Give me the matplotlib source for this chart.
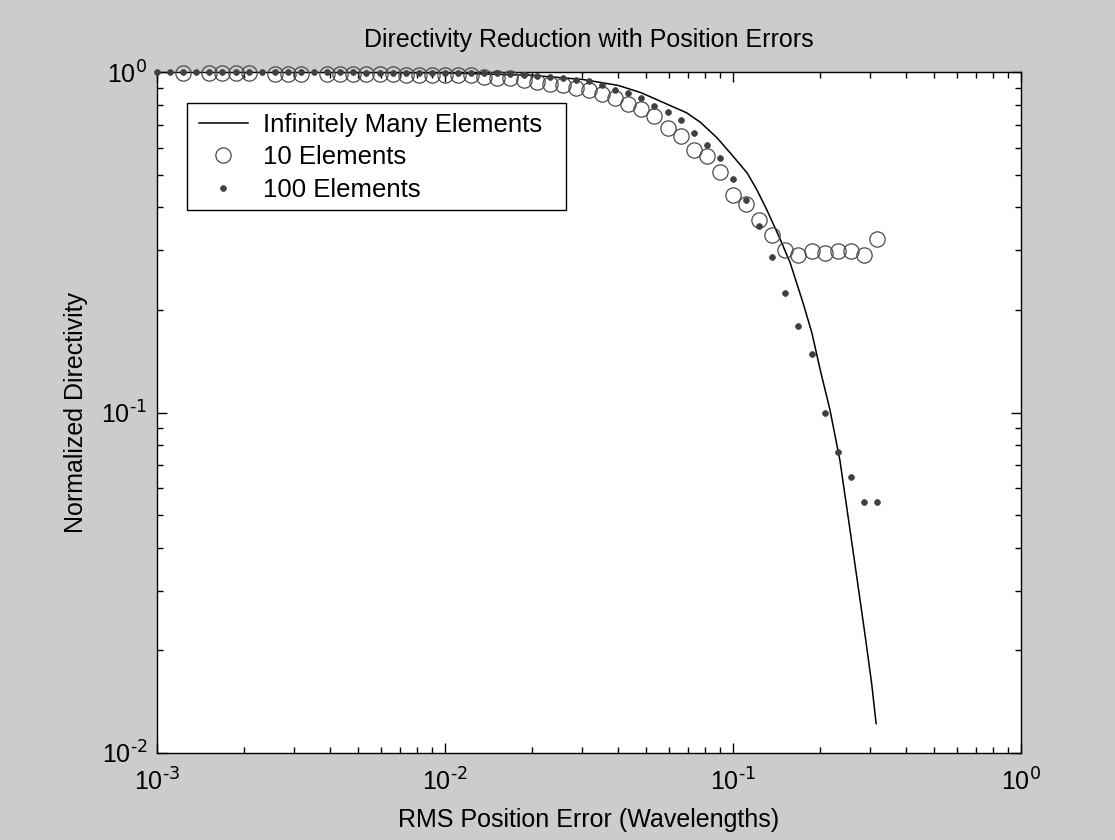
import numpy as np
import matplotlib
matplotlib.use('Agg')
import matplotlib.pyplot as plt
from matplotlib.ticker import LogLocator, NullFormatter, FuncFormatter
from matplotlib.patches import Rectangle

plt.rcParams['font.family'] = ['Liberation Sans', 'DejaVu Sans']
plt.rcParams['mathtext.default'] = 'regular'
plt.rcParams['axes.unicode_minus'] = False

# RMS position error grid (wavelengths)
x_err = [0.001000, 0.001110, 0.001233, 0.001369, 0.001520, 0.001688, 0.001874, 0.002081,
         0.002310, 0.002565, 0.002848, 0.003162, 0.003511, 0.003899, 0.004329, 0.004806,
         0.005337, 0.005926, 0.006579, 0.007305, 0.008111, 0.009006, 0.01000, 0.01110,
         0.01233, 0.01369, 0.01520, 0.01688, 0.01874, 0.02081, 0.02310, 0.02565,
         0.02848, 0.03162, 0.03511, 0.03899, 0.04329, 0.04806, 0.05337, 0.05926,
         0.06579, 0.07305, 0.08111, 0.09006, 0.1000, 0.1110, 0.1233, 0.1369,
         0.1520, 0.1688, 0.1874, 0.2081, 0.2310, 0.2565, 0.2848, 0.3162]

# 10 elements (values > 1 fall outside the axes and are not shown)
d_10 = [1.01, 1.01, 0.990, 1.01, 0.990, 0.990, 0.990, 0.990,
        1.01, 0.987, 0.987, 0.987, 1.01, 0.987, 0.987, 0.987,
        0.987, 0.987, 0.987, 0.983, 0.983, 0.983, 0.983, 0.977,
        0.977, 0.970, 0.963, 0.957, 0.950, 0.937, 0.925, 0.913,
        0.900, 0.888, 0.859, 0.836, 0.808, 0.781, 0.745, 0.685,
        0.650, 0.592, 0.565, 0.507, 0.434, 0.410, 0.368, 0.333,
        0.301, 0.290, 0.299, 0.295, 0.299, 0.298, 0.290, 0.323]

# 100 elements
d_100 = [0.997, 0.997, 0.997, 0.997, 0.997, 0.997, 0.997, 0.997,
         0.997, 0.997, 0.997, 0.997, 0.997, 0.997, 0.997, 0.997,
         0.995, 0.995, 0.995, 0.995, 0.995, 0.995, 0.995, 0.990,
         0.990, 0.990, 0.990, 0.985, 0.980, 0.975, 0.970, 0.960,
         0.950, 0.938, 0.913, 0.888, 0.870, 0.841, 0.797, 0.762,
         0.721, 0.662, 0.609, 0.559, 0.486, 0.420, 0.352, 0.287,
         0.225, 0.180, 0.149, 0.0995, 0.0766, 0.0645, 0.0546, 0.0546]

# infinitely many elements (theory curve)
x_inf = [0.001, 0.003, 0.01, 0.02, 0.03, 0.04, 0.048, 0.069, 0.077, 0.088, 0.100, 0.112,
         0.121, 0.131, 0.146, 0.158, 0.175, 0.188, 0.201, 0.217, 0.235, 0.251, 0.269,
         0.287, 0.303, 0.314]
d_inf = [1.0, 0.999, 0.994, 0.978, 0.951, 0.913, 0.869, 0.759, 0.712, 0.641, 0.566, 0.505,
         0.451, 0.394, 0.322, 0.275, 0.210, 0.171, 0.133, 0.102, 0.0725, 0.0494, 0.0329,
         0.0224, 0.0160, 0.0122]

W, H = 1115, 840
fig = plt.figure(figsize=(W / 100, H / 100), dpi=100, facecolor='#cccccc')
ax = fig.add_axes([157 / W, 87 / H, 864 / W, 681 / H])
ax.set_facecolor('white')

xe = np.array(x_err)
y10 = np.array(d_10)
y100 = np.array(d_100)
m10 = y10 <= 1.0
m100 = y100 <= 1.0

ax.plot(x_inf, d_inf, color='black', lw=1.1, label='Infinitely Many Elements', zorder=3)
ax.plot(xe[m10], y10[m10], ls='none', marker='o', ms=11, mfc='none', mec='#4a4a4a',
        mew=0.9, clip_on=False, label='10 Elements', zorder=4)
ax.plot(xe[m100], y100[m100], ls='none', marker='o', ms=4.2, mfc='#404040', mec='#404040',
        mew=0.5, clip_on=False, label='100 Elements', zorder=5)

ax.set_xscale('log')
ax.set_yscale('log')
ax.set_xlim(1e-3, 1e0)
ax.set_ylim(1e-2, 1e0)


def pow10(v, pos):
    e = int(round(np.log10(v)))
    return r'$10^{\text{%d}}$' % e


ax.xaxis.set_major_locator(LogLocator(base=10, numticks=10))
ax.yaxis.set_major_locator(LogLocator(base=10, numticks=10))
ax.xaxis.set_major_formatter(FuncFormatter(pow10))
ax.yaxis.set_major_formatter(FuncFormatter(pow10))
ax.xaxis.set_minor_locator(LogLocator(base=10, subs=np.arange(2, 10), numticks=20))
ax.yaxis.set_minor_locator(LogLocator(base=10, subs=np.arange(2, 10), numticks=20))
ax.xaxis.set_minor_formatter(NullFormatter())
ax.yaxis.set_minor_formatter(NullFormatter())

ax.tick_params(which='both', direction='in', top=True, right=True, width=1.0, color='black')
ax.tick_params(which='major', length=7, labelsize=18)
ax.tick_params(axis='x', which='major', pad=11)
ax.tick_params(axis='y', which='major', pad=7)
ax.tick_params(which='minor', length=4.5)
for s in ax.spines.values():
    s.set_linewidth(1.0)
    s.set_color('black')

ax.set_title('Directivity Reduction with Position Errors', fontsize=18, pad=18)
ax.set_xlabel('RMS Position Error (Wavelengths)', fontsize=18, labelpad=9)
ax.set_ylabel('Normalized Directivity', fontsize=18, labelpad=10)

# legend box (drawn as in the reference)
box = Rectangle((187 / W, (H - 210) / H), 379 / W, 107 / H, transform=fig.transFigure,
                facecolor='white', edgecolor='black', linewidth=1.0, clip_on=False, zorder=6)
ax.add_patch(box)
leg = ax.legend(loc='upper left', bbox_to_anchor=(199 / W, (H - 113) / H),
                bbox_transform=fig.transFigure, borderaxespad=0, borderpad=0,
                fontsize=18.5, frameon=False, handlelength=1.9, handletextpad=0.6,
                labelspacing=0.33, numpoints=1)
leg.set_zorder(7)

fig.savefig('out.png', dpi=100, facecolor=fig.get_facecolor())
